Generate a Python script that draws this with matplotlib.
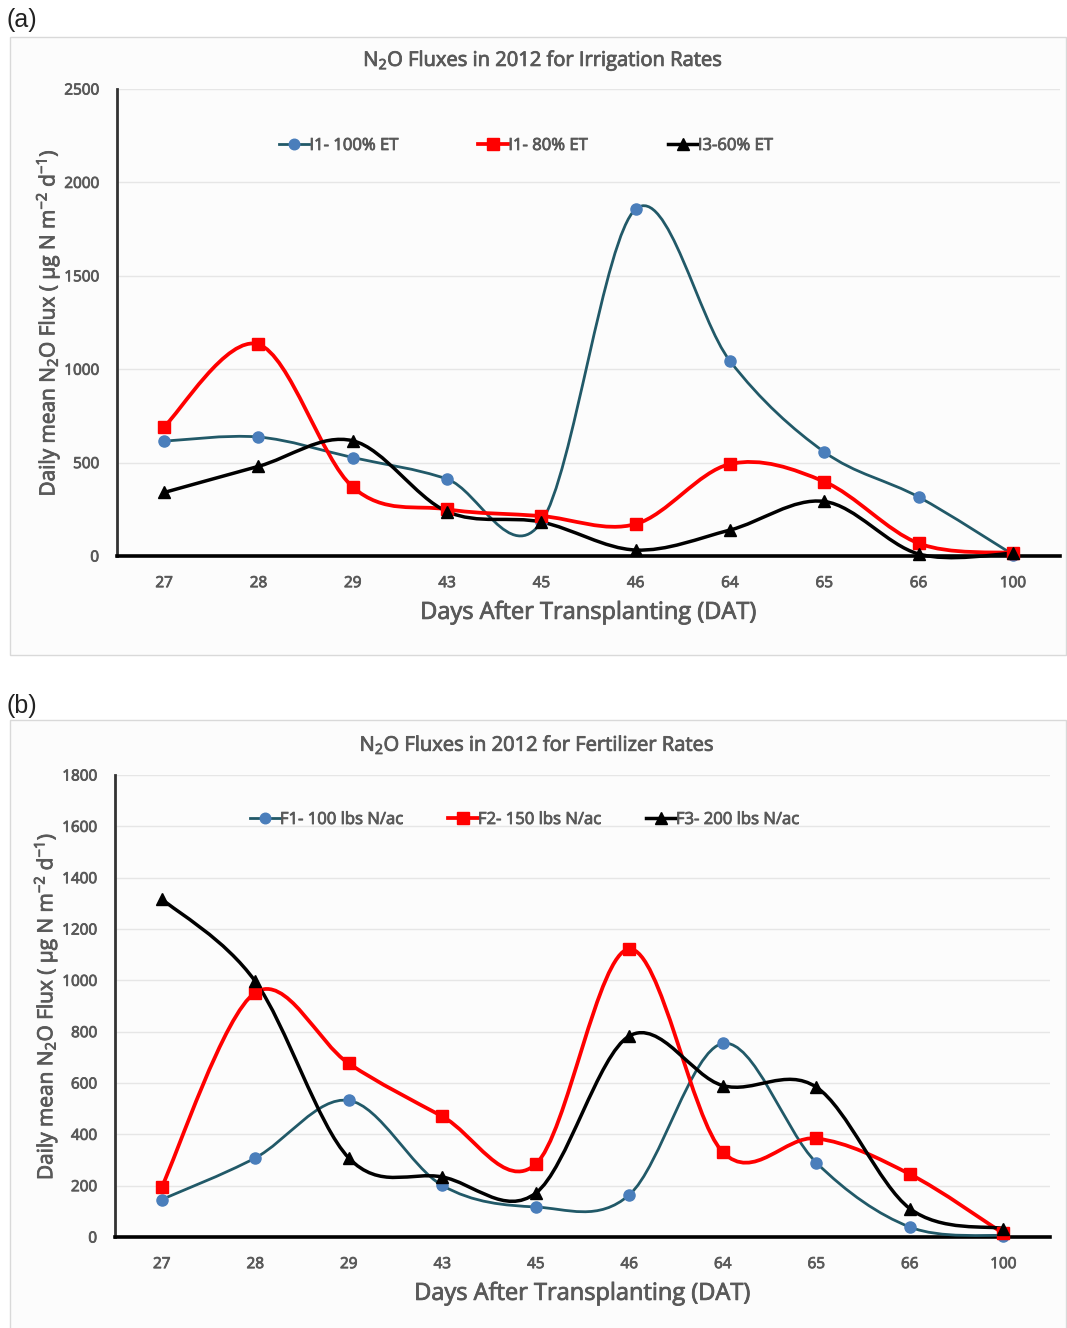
import numpy as np
import matplotlib.pyplot as plt
import matplotlib.patheffects as pe
from matplotlib.path import Path
from matplotlib.patches import PathPatch, Rectangle
from matplotlib.lines import Line2D

plt.rcParams['font.family'] = ['Open Sans', 'DejaVu Sans']
plt.rcParams['mathtext.fontset'] = 'custom'
plt.rcParams['mathtext.rm'] = 'Open Sans'
plt.rcParams['mathtext.it'] = 'Open Sans:italic'
plt.rcParams['mathtext.bf'] = 'Open Sans:bold'

# Data
days = ['27', '28', '29', '43', '45', '46', '64', '65', '66', '100']

irr_labels = ['I1- 100% ET', 'I1- 80% ET', 'I3-60% ET']
irr_100 = [615, 637, 527, 412, 182, 1857, 1044, 557, 316, 8]
irr_80 = [693, 1133, 369, 250, 214, 171, 492, 398, 68, 16]
irr_60 = [340, 480, 617, 238, 182, 32, 139, 292, 11, 14]

fert_labels = ['F1- 100 lbs N/ac', 'F2- 150 lbs N/ac', 'F3- 200 lbs N/ac']
fert_100 = [146, 308, 532, 201, 117, 164, 754, 290, 39, 5]
fert_150 = [195, 952, 676, 470, 284, 1122, 331, 384, 245, 14]
fert_200 = [1317, 996, 308, 234, 171, 783, 590, 584, 111, 33]

GRAY = '#595959'
BLUE_LINE = '#215968'
BLUE_MK = '#4A7EBB'
RED = '#FF0000'
BLACK = '#000000'

# slightly heavier strokes, the original text is Calibri semibold-ish
heavy = [pe.withStroke(linewidth=0.6, foreground=GRAY)]


def smooth_path(xs, ys):
    # Excel-like smoothed line (Catmull-Rom as cubic Bezier)
    n = len(xs)
    verts = [(xs[0], ys[0])]
    codes = [Path.MOVETO]
    for i in range(n - 1):
        a = max(i - 1, 0)
        d = min(i + 2, n - 1)
        c1 = (xs[i] + (xs[i + 1] - xs[a]) / 6, ys[i] + (ys[i + 1] - ys[a]) / 6)
        c2 = (xs[i + 1] - (xs[d] - xs[i]) / 6, ys[i + 1] - (ys[d] - ys[i]) / 6)
        verts += [c1, c2, (xs[i + 1], ys[i + 1])]
        codes += [Path.CURVE4] * 3
    return Path(verts, codes)


styles = [
    dict(color=BLUE_LINE, lw=2.0, marker='o', mfc=BLUE_MK, mec=BLUE_MK, ms=8),
    dict(color=RED, lw=2.7, marker='s', mfc=RED, mec=RED, ms=8.5),
    dict(color=BLACK, lw=2.5, marker='^', mfc=BLACK, mec=BLACK, ms=8.5),
]


def draw_panel(ax, series, labels, ymax, ystep, title, title_xy, leg_xy, colsp):
    x = np.arange(len(days))
    handles = []
    for ys, st, lab in zip(series, styles, labels):
        ax.add_patch(PathPatch(smooth_path(x, np.array(ys, float)), fill=False,
                               edgecolor=st['color'], lw=st['lw'], clip_on=False,
                               capstyle='round', joinstyle='round', zorder=3))
        ax.plot(x, ys, linestyle='none', marker=st['marker'], ms=st['ms'],
                mfc=st['mfc'], mec=st['mec'], clip_on=False, zorder=4)
        handles.append(Line2D([], [], color=st['color'], lw=st['lw'],
                              marker=st['marker'], ms=st['ms'] * 0.95,
                              mfc=st['mfc'], mec=st['mec'], label=lab))
    ax.set_xlim(-0.5, len(days) - 0.5)
    ax.set_ylim(0, ymax)
    ax.set_xticks(x)
    ax.set_xticklabels(days)
    ax.set_yticks(np.arange(0, ymax + 1, ystep))
    ax.tick_params(axis='both', length=0, labelsize=11, labelcolor=GRAY)
    ax.tick_params(axis='y', pad=13)
    ax.tick_params(axis='x', pad=14.5)
    for lbl in ax.get_xticklabels() + ax.get_yticklabels():
        lbl.set_path_effects(heavy)
    ax.grid(axis='y', color='#e6e6e6', lw=1)
    ax.set_axisbelow(True)
    ax.set_facecolor('none')
    for s in ['top', 'right']:
        ax.spines[s].set_visible(False)
    ax.spines['left'].set_color('#333333')
    ax.spines['left'].set_linewidth(2.0)
    ax.spines['bottom'].set_color(BLACK)
    ax.spines['bottom'].set_linewidth(2.6)
    ax.set_xlabel('Days After Transplanting (DAT)', fontsize=17, color=GRAY, labelpad=7,
                  path_effects=heavy)
    ax.set_ylabel('Daily mean N$_2$O Flux ( μg N m$^{-2}$ d$^{-1}$)', fontsize=15,
                  color=GRAY, labelpad=2, path_effects=heavy)
    leg = ax.legend(handles=handles, loc='center', bbox_to_anchor=leg_xy, ncol=3,
                    frameon=False, fontsize=12, handlelength=1.8, handletextpad=0.0,
                    columnspacing=colsp, labelcolor=GRAY)
    for t in leg.get_texts():
        t.set_path_effects(heavy)
    fig.text(title_xy[0], title_xy[1], title, ha='center', va='center',
             fontsize=14.5, color=GRAY, path_effects=heavy)


W, H = 1067, 1328
fig = plt.figure(figsize=(W / 100, H / 100), dpi=100)
fig.patch.set_facecolor('white')

# panel frames
fig.patches.append(Rectangle((10 / W, 1 - 655 / H), 1056 / W, 618 / H,
                             transform=fig.transFigure, facecolor='#fcfcfc',
                             edgecolor='#d9d9d9', lw=1, zorder=-5))
fig.patches.append(Rectangle((10 / W, -0.01), 1056 / W, 1 - 720 / H + 0.01,
                             transform=fig.transFigure, facecolor='#fcfcfc',
                             edgecolor='#d9d9d9', lw=1, zorder=-5))
fig.text(7 / W, 1 - 20 / H, '(a)', fontsize=18, family='Liberation Sans',
         color='#222222', ha='left', va='center')
fig.text(7 / W, 1 - 706 / H, '(b)', fontsize=18, family='Liberation Sans',
         color='#222222', ha='left', va='center')

ax1 = fig.add_axes([117 / W, 1 - 556 / H, 943 / W, 467 / H])
draw_panel(ax1, [irr_100, irr_80, irr_60], irr_labels, 2500, 500,
           'N$_2$O Fluxes in 2012 for Irrigation Rates', (543 / W, 1 - 61 / H),
           (0.434, 0.878), 4.8)

ax2 = fig.add_axes([115 / W, 1 - 1237 / H, 935 / W, 462 / H])
draw_panel(ax2, [fert_100, fert_150, fert_200], fert_labels, 1800, 200,
           'N$_2$O Fluxes in 2012 for Fertilizer Rates', (537 / W, 1 - 745 / H),
           (0.438, 0.9026), 2.7)

fig.savefig('out.png', dpi=100)
